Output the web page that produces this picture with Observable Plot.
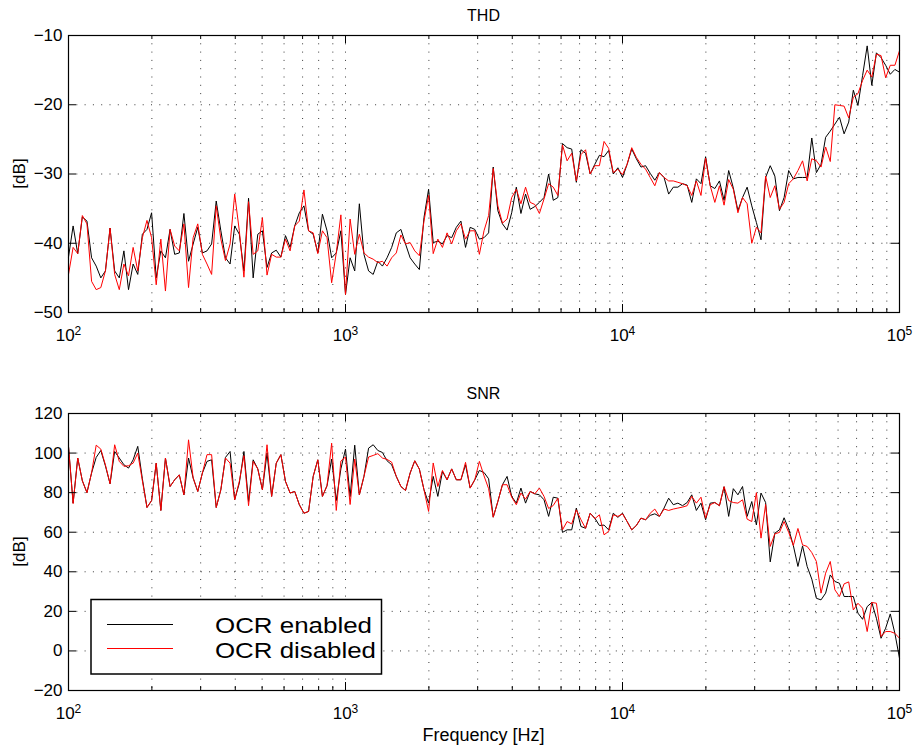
<!DOCTYPE html>
<html><head><meta charset="utf-8">
<script src="https://cdn.jsdelivr.net/npm/d3@7"></script>
<script src="https://cdn.jsdelivr.net/npm/@observablehq/plot@0.6"></script>
<style>
html,body{margin:0;padding:0;background:#fff;}
#wrap{position:relative;width:919px;height:750px;font-family:"Liberation Sans",Arial,Helvetica,sans-serif;}
.panel{position:absolute;left:0;}
#overlay{position:absolute;left:0;top:0;}
</style></head><body>
<div id="wrap"><div id="top" class="panel" style="top:0"></div><div id="bottom" class="panel" style="top:378px"></div><svg id="overlay" width="919" height="750"></svg></div>
<script>
// Frequency sweep: 60 log-spaced points per decade, 100 Hz .. 100 kHz
const sweepPerDecade = 60;
const freqs = d3.range(181).map(i => 100 * Math.pow(10, i / sweepPerDecade));

const thdOn = [
-42,-37.5,-41.5,-36.2,-36.8,-42.1,-43.3,-45,-44,-37.8,
-44,-45,-41.1,-46.7,-43,-44.5,-38.7,-38,-35.6,-45,
-41.1,-42.1,-38,-41.6,-41.4,-35.7,-42.6,-40.1,-37.7,-41.4,
-41.1,-40.1,-33.9,-38.2,-42.1,-43,-37.5,-38.7,-44,-33.5,
-45,-38.7,-38.2,-43.5,-41.4,-41,-42,-38.9,-40.6,-37.5,
-35.6,-34.6,-38.2,-38.7,-41.4,-35.8,-38.2,-42.1,-41.4,-38.2,
-47.4,-42.1,-44,-34.3,-41.6,-44,-44.5,-42.6,-43.3,-42.1,
-40.6,-38.5,-38,-40.1,-42.1,-43,-43.8,-36.3,-32.2,-39.9,
-39.7,-40.1,-38.9,-39.2,-37.7,-36.8,-40.6,-37.7,-38,-39.4,
-39.2,-38.5,-29,-35.3,-37.2,-38.1,-35.6,-31.9,-35.7,-32.9,
-35.1,-34.7,-34.1,-33.4,-30,-33.8,-33.4,-25.6,-26.2,-26.4,
-31.2,-26.5,-27,-30,-28.6,-27.3,-27.5,-26.6,-30,-29.1,
-30.5,-28.6,-26.4,-27.8,-29,-28.8,-29.9,-30.9,-29.8,-30.5,
-32.9,-31.9,-31.9,-31.4,-31.6,-34.1,-30.7,-31.4,-27.5,-31.7,
-32.1,-31,-33.8,-29.5,-32,-35.3,-33.4,-31.9,-34.6,-37,
-39.5,-30.5,-28.8,-30.3,-35.3,-33.4,-29.5,-30.7,-30.5,-30.5,
-30.5,-24.8,-29.8,-28.6,-24.7,-23.8,-22.8,-21.8,-24.2,-22.5,
-17.9,-20.1,-15.8,-11.5,-17.2,-12.5,-13.2,-14.3,-15.6,-14.9,-15.3];

const thdOff = [
-44.5,-40.6,-41.5,-36,-37.2,-45.5,-46.7,-46.4,-44,-37.8,
-44.5,-46.7,-43,-44.7,-40.6,-44,-39.2,-36.7,-39.2,-46,
-39.4,-46.9,-38,-40.4,-41.1,-37.2,-46.4,-39.2,-37.2,-41.6,
-43,-44.5,-34.6,-39.4,-42.5,-40.1,-32.9,-38.2,-44.9,-34,
-41.6,-41.1,-36.3,-44.6,-41.6,-42,-42,-39.4,-41.1,-37.5,
-36.8,-32.3,-38.2,-38.5,-41.5,-38.2,-39.2,-45.7,-41.4,-35.9,
-47.4,-36.5,-41.6,-38.7,-41.4,-42,-42.3,-42.8,-42.6,-43.3,
-42.1,-41.4,-38.8,-40.1,-39.9,-41.1,-41.8,-36.8,-33.1,-41.5,
-39.4,-40.6,-38.5,-40.1,-38.2,-37.2,-39.4,-38.2,-38.2,-41.6,
-38.2,-36,-29.2,-34.6,-37.1,-36.5,-33.4,-32.2,-34.3,-31.9,
-34.1,-34.4,-35.7,-33.6,-31.4,-31.9,-33.1,-25.8,-28.1,-27,
-31,-27.2,-26.5,-30,-28.8,-28.8,-25.3,-26.3,-29.8,-29.3,
-30.1,-28.6,-26.2,-27.6,-28.6,-29.3,-30.5,-31.7,-29.8,-30.5,
-31,-31,-31.2,-31.4,-31.7,-33.1,-31,-33.1,-27.7,-31.7,
-34.1,-31.7,-34.5,-30.8,-32.2,-35.6,-33.4,-34.3,-40,-37.7,
-38.5,-30.3,-33.4,-31.7,-35.1,-34.1,-31.4,-30.7,-29.5,-28.1,
-31,-27.8,-28.1,-29,-26.1,-28.2,-20,-20.1,-20.2,-21.9,
-18.9,-18.4,-16.5,-15,-16,-12.7,-12.9,-16.1,-14.3,-14.3,-12.2];

const snrOn = [
103.4,74.7,97.5,86,80,90,97.8,101.3,93.5,84.5,
100.8,97.5,94.1,92.4,96.6,103.4,87,72.5,76,94.9,
71,97.5,83.1,86.5,89,78.9,97.5,87.4,80.6,89.9,
95.8,96.6,72.5,81.5,97.8,100.8,76.4,84.8,100.8,75.5,
96.6,92,81.5,100,78.1,94.9,99.2,85.7,79.8,80.6,
73.9,69.6,70.5,88.2,96.6,78.1,83.5,97,76,92,
102,78,104,78.9,88.2,102.5,104.2,101.3,100.3,96.1,
94.1,88.2,83.1,81.1,89.9,96.1,91.9,81.5,74.7,88.2,
78.1,90.7,86.5,92,86.5,86.5,94.1,82.3,86.5,91.2,
90.2,87,67.6,75.5,84,88.2,78.1,74.7,82.3,74.7,
80.6,79.4,78.9,76.4,68,77.7,77.2,59.9,61.2,61.2,
72.2,62.9,62,69.6,67.1,63.4,63.6,61.2,69.6,67.5,
69.6,65.4,61.2,63.4,67.1,66.3,68.5,69.3,68,72.2,
77.2,73.9,74.7,73.4,75,78.9,71,74.7,66.3,74.7,
75,73.4,83,68,82,78.9,83.1,68,75.5,63.7,
79.8,75,45,59.5,61.2,67.3,61.6,53.3,42.7,53.1,
42.7,36.3,26.6,25.8,29.2,38.4,35.1,34.2,27.5,27.5,
27.5,19.1,16,22.4,24.5,16.5,6.4,11.5,18.7,8.9,-3.7];

const snrOff = [
103.4,74.5,97.5,86,80,90,104,102,94,84.5,
104.2,95.8,93.3,93.6,94.9,100,86,72.5,76,94.9,
71,97.5,83.1,86.5,89,78.9,106.7,87.4,80.6,89.9,
99.2,99.2,72.5,81.5,97.5,94.9,76.4,85.7,98.7,73.4,
95.8,92,81.5,104.2,78.1,94.9,99.2,85.7,79.8,80.6,
73.9,69.6,70.5,88.2,96.6,78.1,83.5,105,71,96,
98,74,97,78.9,88.2,98,98.8,99.7,97.5,96.8,
95.4,88.2,83.1,81.1,89.9,96.1,91.9,81.5,70.5,95,
83.1,91.2,86.5,92,86.5,86.5,95.3,82.3,86.5,95.8,
88.5,82,67.6,75.5,84,84,77.7,73.9,79.8,76.7,
80.6,79.4,82.3,78.1,72,73.5,77.2,61.2,65.4,64.2,
71.3,66.3,62,69.6,66.8,68.8,58.7,60.4,68.8,68,
69.3,65.4,61.2,63.4,67.1,66.3,69.6,71.7,68,71.7,
71,71.7,72.2,72.7,73.4,78.1,74.7,77.7,67.1,73.9,
75,73.4,83,76,75,74.7,76.4,66.6,65.4,80,
57,74,52.8,59.2,59.9,65.4,59.9,53.3,61.9,53.6,
52.8,49.7,45.2,29.2,39.3,45.2,30.9,27.5,33.9,34.9,
20.7,24.1,21.6,9.8,24.5,24.1,7.3,9.8,9.8,8.9,6.4];

const xMajor = [100, 1000, 10000, 100000];
const xMinor = [2,3,4,5,6,7,8,9].flatMap(m => [100, 1000, 10000].map(d => m * d));
const thdTicks = [-50, -40, -30, -20, -10];
const snrTicks = [-20, 0, 20, 40, 60, 80, 100, 120];
const seriesNames = ["OCR enabled", "OCR disabled"];
const panelTitles = ["THD", "SNR"];
const yLabel = "[dB]";
const xLabel = "Frequency [Hz]";

const FONT = '"Liberation Sans", Arial, Helvetica, sans-serif';
const W = 919, H = 345, ML = 68, MR = 20, MT = 35, MB = 33;
const PW = W - ML - MR, PH = H - MT - MB;
const minusFmt = d => d < 0 ? "\u2212" + (-d) : String(d);
const gridStyle = {stroke: "#3a3a3a", strokeWidth: 1, strokeDasharray: "1,7.3"};

function panel(yDomain, yTicks, on, off) {
  const rows = freqs.map((f, i) => ({f, on: on[i], off: off[i]}));
  const svg = Plot.plot({
    width: W, height: H,
    marginLeft: ML, marginRight: MR, marginTop: MT, marginBottom: MB,
    style: {fontFamily: FONT, fontSize: "17px", background: "transparent", color: "#000", overflow: "visible"},
    x: {type: "log", domain: [100, 100000], label: null},
    y: {domain: yDomain, label: null},
    marks: [
      Plot.ruleX(xMinor.concat([1000, 10000]), {x: d => d, ...gridStyle}),
      Plot.ruleY(yTicks.slice(1, -1), {y: d => d, ...gridStyle}),
      Plot.line(rows, {x: "f", y: "on", stroke: "#000", strokeWidth: 1}),
      Plot.line(rows, {x: "f", y: "off", stroke: "#ff0000", strokeWidth: 1}),
      Plot.tickX(xMajor, {x: d => d, insetTop: PH - 8, stroke: "#000"}),
      Plot.tickX(xMajor, {x: d => d, insetBottom: PH - 8, stroke: "#000"}),
      Plot.tickX(xMinor, {x: d => d, insetTop: PH - 4, stroke: "#000"}),
      Plot.tickX(xMinor, {x: d => d, insetBottom: PH - 4, stroke: "#000"}),
      Plot.tickY(yTicks, {y: d => d, insetRight: PW - 8, stroke: "#000"}),
      Plot.tickY(yTicks, {y: d => d, insetLeft: PW - 8, stroke: "#000"}),
      Plot.axisX(xMajor, {tickSize: 0, tickPadding: 16, tickFormat: d => "10^" + Math.round(Math.log10(d)), fontSize: 17}),
      Plot.axisY(yTicks, {tickSize: 0, tickPadding: 6, tickFormat: minusFmt, fontSize: 17}),
      Plot.frame({stroke: "#000", strokeWidth: 1.2})
    ]
  });
  // render exponents as superscripts
  svg.querySelectorAll("text").forEach(t => {
    const m = /^10\^(\d)$/.exec(t.textContent);
    if (m) {
      t.textContent = "10";
      const ts = document.createElementNS("http://www.w3.org/2000/svg", "tspan");
      ts.setAttribute("dy", "-0.45em");
      ts.setAttribute("font-size", "12px");
      ts.textContent = m[1];
      t.appendChild(ts);
    }
  });
  return svg;
}

document.getElementById("top").appendChild(panel([-50, -10], thdTicks, thdOn, thdOff));
document.getElementById("bottom").appendChild(panel([-20, 120], snrTicks, snrOn, snrOff));

// titles, labels, legend
const ov = d3.select("#overlay").style("font-family", FONT);
const cx = ML + PW / 2;
ov.append("text").attr("x", cx).attr("y", 21).attr("text-anchor", "middle").attr("font-size", 16).text(panelTitles[0]);
ov.append("text").attr("x", cx).attr("y", 399).attr("text-anchor", "middle").attr("font-size", 16).text(panelTitles[1]);
[MT + PH / 2, 378 + MT + PH / 2].forEach(cy => {
  ov.append("text").attr("transform", `translate(25,${cy}) rotate(-90)`).attr("text-anchor", "middle").attr("font-size", 17).text(yLabel);
});
ov.append("text").attr("x", cx).attr("y", 741).attr("text-anchor", "middle").attr("font-size", 18).text(xLabel);

const lg = ov.append("g");
lg.append("rect").attr("x", 91).attr("y", 599.5).attr("width", 290.5).attr("height", 74.5)
  .attr("fill", "#fff").attr("stroke", "#000").attr("stroke-width", 1.5);
[["#000", 624.5, 632.5, 157], ["#ff0000", 648.5, 657.5, 161]].forEach(([c, ly, ty, len], i) => {
  lg.append("line").attr("x1", 107).attr("x2", 173).attr("y1", ly).attr("y2", ly).attr("stroke", c).attr("stroke-width", 1);
  lg.append("text").attr("x", 215).attr("y", ty).attr("font-size", 22)
    .attr("textLength", len).attr("lengthAdjust", "spacingAndGlyphs").text(seriesNames[i]);
});
</script>
</body></html>
